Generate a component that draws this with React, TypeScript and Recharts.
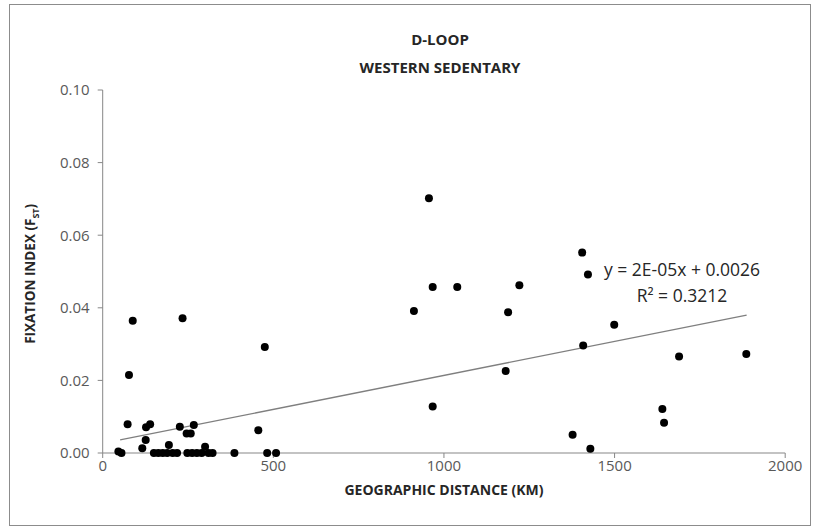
import React from 'react';
import { ScatterChart, Scatter, XAxis, YAxis } from 'recharts';

// distance between populations (km) and the matching pairwise F_ST
const distanceKm = [
  46, 55, 73, 77, 88, 116, 126, 127, 139, 150, 163, 176, 189, 194, 205, 218, 226, 234,
  246, 248, 258, 262, 267, 276, 290, 300, 310, 322, 386, 456, 475, 482, 508,
  912, 956, 967, 967, 1039, 1181, 1188, 1221, 1377, 1405, 1408, 1422, 1429, 1499,
  1640, 1645, 1689, 1886,
];
const fstValues = [
  0.0004, 0, 0.0079, 0.0215, 0.0364, 0.0013, 0.0036, 0.0071, 0.0079, 0, 0, 0, 0, 0.0022, 0, 0, 0.0072, 0.0371,
  0.0054, 0, 0.0054, 0, 0.0077, 0, 0, 0.0017, 0, 0, 0, 0.0063, 0.0292, 0, 0,
  0.0391, 0.0702, 0.0457, 0.0128, 0.0457, 0.0226, 0.0388, 0.0462, 0.005, 0.0552, 0.0296, 0.0492, 0.0012, 0.0353,
  0.0121, 0.0083, 0.0266, 0.0273,
];

// linear trend endpoints as drawn by Excel
const trendKm = [51, 1887];
const trendFst = [0.0036, 0.038];

const xTicks = [0, 500, 1000, 1500, 2000];
const yTicks = [0, 0.02, 0.04, 0.06, 0.08, 0.1];

const points = distanceKm.map((x, i) => ({ x, y: fstValues[i] }));
const trend = trendKm.map((x, i) => ({ x, y: trendFst[i] }));

const FONT = '"Open Sans", sans-serif';
const axisColor = '#878787';
const tickStyle = { fontSize: 15, fill: '#595959', fontFamily: FONT };

const Dot = (props: any) => <circle cx={props.cx} cy={props.cy} r={4} fill="#000" />;
const NoDot = () => <g />;

export default function App() {
  return (
    <div
      style={{
        position: 'absolute', left: 9, top: 4, width: 800, height: 520,
        border: '1px solid #8c8c8c', background: '#fff', fontFamily: FONT,
      }}
    >
      <div style={{ position: 'absolute', left: 330, width: 200, top: 20, textAlign: 'center', fontWeight: 700, fontSize: 15, lineHeight: '28px', color: '#262626' }}>
        D-LOOP<br />WESTERN SEDENTARY
      </div>

      <div
        style={{
          position: 'absolute', left: 23, top: 266, width: 0, height: 0,
        }}
      >
        <div
          style={{
            position: 'absolute', left: -100, top: -10, width: 200, textAlign: 'center',
            transform: 'rotate(-90deg)', fontWeight: 700, fontSize: 13.5, lineHeight: '20px',
            color: '#262626', whiteSpace: 'nowrap',
          }}
        >
          FIXATION INDEX (F<sub style={{ fontSize: 9 }}>ST</sub>)
        </div>
      </div>

      <div style={{ position: 'absolute', left: 234, width: 400, top: 475, textAlign: 'center', fontWeight: 700, fontSize: 14, color: '#262626' }}>
        GEOGRAPHIC DISTANCE (KM)
      </div>

      <div style={{ position: 'absolute', left: 572, width: 200, top: 251, textAlign: 'center', fontSize: 17.5, lineHeight: '26px', color: '#262626' }}>
        y = 2E-05x + 0.0026<br />R² = 0.3212
      </div>

      <ScatterChart width={800} height={520} margin={{ top: 85, right: 24.8, bottom: 42, left: 32.7 }}>
        <XAxis
          type="number" dataKey="x" domain={[0, 2000]} ticks={xTicks} height={30}
          axisLine={{ stroke: axisColor }} tickLine={{ stroke: axisColor }} tickSize={5}
          tick={tickStyle}
        />
        <YAxis
          type="number" dataKey="y" domain={[0, 0.1]} ticks={yTicks} width={60}
          axisLine={{ stroke: axisColor }} tickLine={{ stroke: axisColor }} tickSize={5} tickMargin={8}
          tick={tickStyle} tickFormatter={(v: number) => v.toFixed(2)}
        />
        <Scatter data={trend} line={{ stroke: '#7f7f7f', strokeWidth: 1.3 }} shape={NoDot} isAnimationActive={false} />
        <Scatter data={points} shape={Dot} isAnimationActive={false} />
      </ScatterChart>
    </div>
  );
}
